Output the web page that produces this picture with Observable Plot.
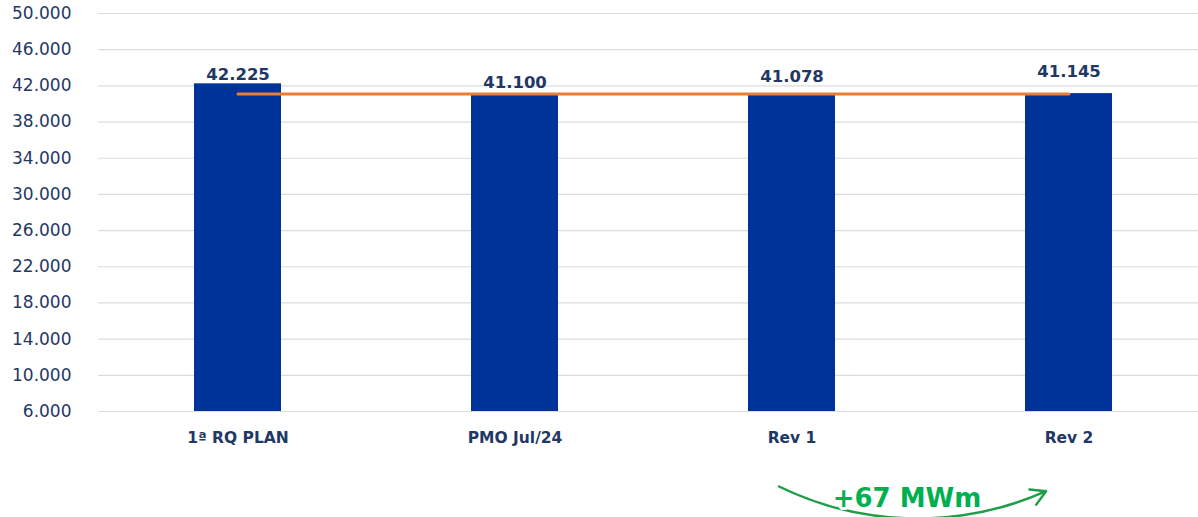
<!DOCTYPE html>
<html><head><meta charset="utf-8">
<script src="https://cdn.jsdelivr.net/npm/d3@7"></script>
<script src="https://cdn.jsdelivr.net/npm/@observablehq/plot@0.6"></script>
<style>html,body{margin:0;padding:0;background:#fff}#chart svg{display:block}</style>
</head><body><div id="chart"></div>
<script>
const categories = ["1ª RQ PLAN", "PMO Jul/24", "Rev 1", "Rev 2"];
const values = [42225, 41100, 41078, 41145];
const referenceValue = 41100;
const yTicks = [6000, 10000, 14000, 18000, 22000, 26000, 30000, 34000, 38000, 42000, 46000, 50000];
const deltaFrom = "Rev 1";
const deltaTo = "Rev 2";
const deltaLabel = "+67 MWm";

// label offsets (style only, in pixels)
const labelDy = [-4, -6, -12, -17];

const data = categories.map((c, i) => ({category: c, value: values[i]}));
const annotation = [{from: deltaFrom, to: deltaTo, label: deltaLabel}];
const fmt = d3.formatLocale({decimal: ",", thousands: ".", grouping: [3], currency: ["R$", ""]}).format(",d");
const navy = "#1f3864";
const yMin = yTicks[0], yMax = yTicks[yTicks.length - 1];

const chart = Plot.plot({
  width: 1198,
  height: 517,
  marginTop: 13,
  marginBottom: 106,
  marginLeft: 98,
  marginRight: 0,
  style: {fontFamily: "DejaVu Sans", color: navy, background: "#fff"},
  x: {domain: categories, range: [97.7, 1208.1], paddingInner: 0.687, paddingOuter: 0.3435},
  y: {domain: [yMin, yMax]},
  marks: [
    Plot.ruleY(yTicks, {stroke: "#dcdcdc", strokeWidth: 1.2}),
    Plot.barY(data, {x: "category", y1: () => yMin, y2: "value", fill: "#003399"}),
    Plot.line(data, {x: "category", y: () => referenceValue, stroke: "#ed7d31", strokeWidth: 3}),
    ...data.map((d, i) => Plot.text([d], {x: "category", y: "value", text: d => fmt(d.value), lineAnchor: "bottom", dy: labelDy[i], fontWeight: "bold", fontSize: 16.5, fill: navy})),
    Plot.axisY(yTicks, {tickSize: 0, tickPadding: 27, tickFormat: fmt, fontSize: 17, label: null, fill: navy}),
    Plot.axisX({tickSize: 0, tickPadding: 20, fontSize: 15.5, fontWeight: "bold", label: null, fill: navy}),
    Plot.arrow(annotation, {x1: "from", x2: "to", y1: () => yMin, y2: () => yMin, dx: -13, dy: 75, bend: -26, insetEnd: 11, stroke: "#1e9e48", strokeWidth: 2.5, headLength: 10}),
    Plot.text(annotation, {x: "from", frameAnchor: "bottom", dx: 115, dy: 95, text: "label", fontSize: 26, fontWeight: "bold", fill: "#00b050", stroke: "white", strokeWidth: 6, paintOrder: "stroke"})
  ]
});
document.getElementById("chart").appendChild(chart);
</script>
</body></html>
